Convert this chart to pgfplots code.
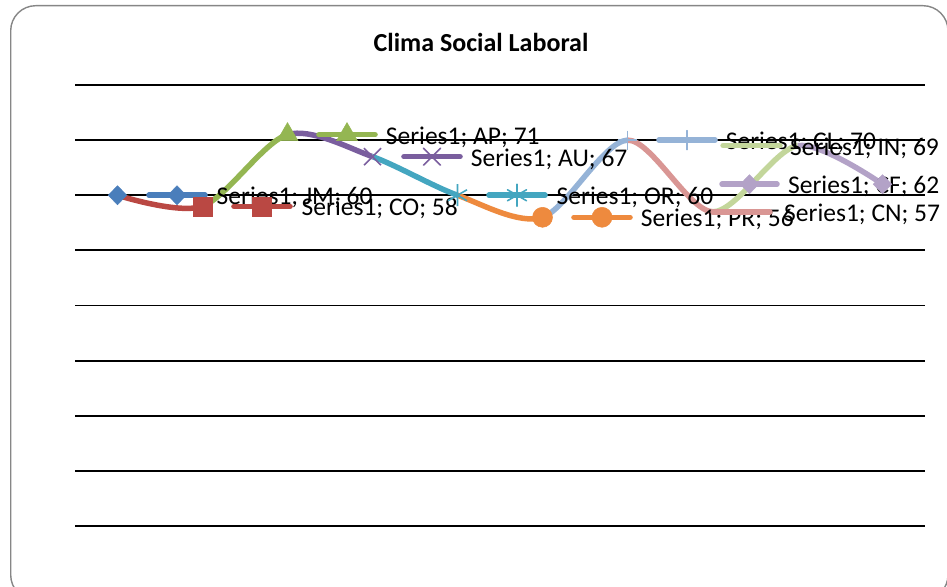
\documentclass[border=0pt]{standalone}
\usepackage{pgfplots}
\pgfplotsset{compat=1.18}
\usepackage{pgfplotstable}
\usepackage{fontspec}
\setmainfont{Carlito}
\definecolor{cJM}{HTML}{4A7EBB}
\definecolor{cCO}{HTML}{BA4843}
\definecolor{cAP}{HTML}{94B652}
\definecolor{cAU}{HTML}{7A5E9E}
\definecolor{cOR}{HTML}{44A6C0}
\definecolor{cPR}{HTML}{EE8A3E}
\definecolor{cCL}{HTML}{95B3D7}
\definecolor{cCN}{HTML}{D99694}
\definecolor{cIN}{HTML}{C3D69B}
\definecolor{cCF}{HTML}{B3A2C7}
\definecolor{frame}{HTML}{868686}
\pgfplotstableread{
x y
0 60
1 58
2 71
3 67
4 60
5 56
6 70
7 57
8 69
9 62
}\clima
\newcommand\lbl{\fontsize{25.5bp}{30bp}\selectfont}
\pgfplotsset{
  seg/.style={smooth, tension=0.5, line width=5.5bp, mark=none},
  key/.style={line width=5.5bp, line cap=round, mark indices={2}},
  mJM/.style={mark=diamond*, mark size=9.5bp, mark options={solid, xscale=1.3, line width=0.5bp}},
  mCO/.style={mark=square*, mark size=9.5bp, mark options={solid, line width=0.5bp}},
  mAP/.style={mark=triangle*, mark size=12bp, mark options={solid, line width=0.5bp}},
  mAU/.style={mark=x, mark size=12bp, mark options={solid, line width=1.6bp}},
  mOR/.style={mark=asterisk, mark size=11bp, mark options={solid, line width=1.6bp}},
  mPR/.style={mark=*, mark size=10bp, mark options={solid, line width=0.5bp}},
  mCL/.style={mark=+, mark size=9.5bp, mark options={solid, line width=1.6bp}},
  mCF/.style={mark=diamond*, mark size=9.5bp, mark options={solid, xscale=1.3, line width=0.5bp}},
}
\tikzset{lblnode/.style={anchor=base west, inner sep=0pt, font=\lbl, yshift=-9.7bp}}
\begin{document}
\begin{tikzpicture}
\useasboundingbox (0,0) rectangle (947bp,587bp);
\draw[frame, line width=1.4bp, rounded corners=25bp] (10.7bp,-13bp) rectangle (948bp,581.3bp);
\node[anchor=base, font=\bfseries\fontsize{26bp}{31bp}\selectfont, inner sep=0pt] at (481bp,535bp) {Clima Social Laboral};
\begin{axis}[
  at={(75bp,61bp)}, anchor=south west,
  width=850bp, height=441bp, scale only axis,
  xmin=-0.5, xmax=9.5, ymin=0, ymax=80,
  axis line style={draw=none},
  ytick={0,10,...,80}, yticklabels={}, xtick=\empty,
  ymajorgrids, major grid style={black, line width=1.8bp},
  tick style={draw=none},
  clip=false,
]
% smoothed line, one colour per segment
\begin{scope}\clip (axis cs:0,-20) rectangle (axis cs:1,100);
\addplot[cCO, seg] table {\clima};\end{scope}
\begin{scope}\clip (axis cs:1,-20) rectangle (axis cs:2,100);
\addplot[cAP, seg] table {\clima};\end{scope}
\begin{scope}\clip (axis cs:2,-20) rectangle (axis cs:3,100);
\addplot[cAU, seg] table {\clima};\end{scope}
\begin{scope}\clip (axis cs:3,-20) rectangle (axis cs:4,100);
\addplot[cOR, seg] table {\clima};\end{scope}
\begin{scope}\clip (axis cs:4,-20) rectangle (axis cs:5,100);
\addplot[cPR, seg] table {\clima};\end{scope}
\begin{scope}\clip (axis cs:5,-20) rectangle (axis cs:6,100);
\addplot[cCL, seg] table {\clima};\end{scope}
\begin{scope}\clip (axis cs:6,-20) rectangle (axis cs:7,100);
\addplot[cCN, seg] table {\clima};\end{scope}
\begin{scope}\clip (axis cs:7,-20) rectangle (axis cs:8,100);
\addplot[cIN, seg] table {\clima};\end{scope}
\begin{scope}\clip (axis cs:8,-20) rectangle (axis cs:9,100);
\addplot[cCF, seg] table {\clima};\end{scope}
% markers
\addplot[cJM, only marks, mJM] coordinates {(0,60)};
\addplot[cCO, only marks, mCO] coordinates {(1,58)};
\addplot[cAP, only marks, mAP] coordinates {(2,71)};
\addplot[cAU, only marks, mAU] coordinates {(3,67)};
\addplot[cOR, only marks, mOR] coordinates {(4,60)};
\addplot[cPR, only marks, mPR] coordinates {(5,56)};
\addplot[cCL, only marks, mCL] coordinates {(6,70)};
\addplot[cCF, only marks, mCF] coordinates {(9,62)};
% data labels with legend keys
\addplot[cJM, key, mJM] coordinates {(0.37,60) (0.70,60) (1.03,60)};
\node[lblnode] at (axis cs:1.165,60) {Series1; JM; 60};
\addplot[cCO, key, mCO] coordinates {(1.37,58) (1.70,58) (2.03,58)};
\node[lblnode] at (axis cs:2.165,58) {Series1; CO; 58};
\addplot[cAP, key, mAP] coordinates {(2.37,71) (2.70,71) (3.03,71)};
\node[lblnode] at (axis cs:3.155,71) {Series1; AP; 71};
\addplot[cAU, key, mAU] coordinates {(3.37,67) (3.70,67) (4.03,67)};
\node[lblnode] at (axis cs:4.155,67) {Series1; AU; 67};
\addplot[cOR, key, mOR] coordinates {(4.37,60) (4.70,60) (5.03,60)};
\node[lblnode] at (axis cs:5.165,60) {Series1; OR; 60};
\addplot[cPR, key, mPR] coordinates {(5.37,56) (5.70,56) (6.03,56)};
\node[lblnode] at (axis cs:6.155,56) {Series1; PR; 56};
\addplot[cCL, key, mCL] coordinates {(6.37,70) (6.70,70) (7.03,70)};
\node[lblnode] at (axis cs:7.155,70) {Series1; CL; 70};
\addplot[cCN, key, mark=none] coordinates {(7.006,57) (7.34,57) (7.676,57)};
\node[lblnode] at (axis cs:7.841,57) {Series1; CN; 57};
\addplot[cIN, key, mark=none] coordinates {(7.124,69) (7.46,69) (7.794,69)};
\node[lblnode] at (axis cs:7.912,69) {Series1; IN; 69};
\addplot[cCF, key, mCF] coordinates {(7.112,62) (7.435,62) (7.759,62)};
\node[lblnode] at (axis cs:7.888,62) {Series1; CF; 62};
\end{axis}
\end{tikzpicture}
\end{document}
